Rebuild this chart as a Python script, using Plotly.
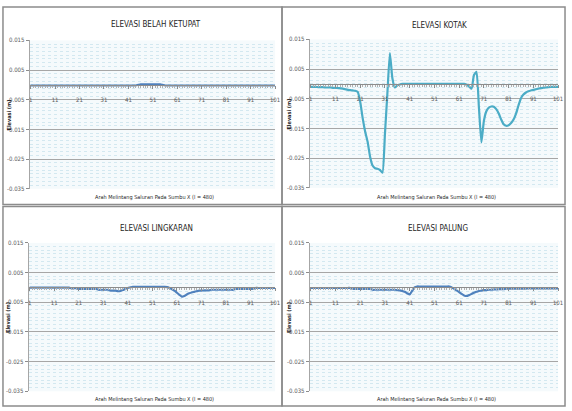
import plotly.graph_objects as go

# ---------------- data ----------------
x_pos = list(range(1, 102))
x_tick_vals = [1, 11, 21, 31, 41, 51, 61, 71, 81, 91, 101]
x_tick_text = ["1", "11", "21", "31", "41", "51", "61", "71", "81", "91", "101"]
y_tick_vals = [0.015, 0.005, -0.005, -0.015, -0.025, -0.035]
y_tick_text = ["0.015", "0.005", "-0.005", "-0.015", "-0.025", "-0.035"]

titles = ["ELEVASI BELAH KETUPAT", "ELEVASI KOTAK", "ELEVASI LINGKARAN", "ELEVASI PALUNG"]
x_title = "Arah Melintang Saluran Pada Sumbu X (l = 480)"
y_title = "Elevasi (m)"

belah_ketupat = [
    -0.0002, -0.0002, -0.0002, -0.0002, -0.0002, -0.0002, -0.0002, -0.0002, -0.0002, -0.0002,
    -0.0002, -0.0002, -0.0002, -0.0002, -0.0002, -0.0002, -0.0002, -0.0002, -0.0002, -0.0002,
    -0.0002, -0.0002, -0.0002, -0.0002, -0.0002, -0.0002, -0.0002, -0.0002, -0.0002, -0.0002,
    -0.0002, -0.0002, -0.0002, -0.0002, -0.0002, -0.0002, -0.0002, -0.0002, -0.0002, -0.0002,
    -0.0002, -0.0002, -0.0002, -0.0002, 0.0000, 0.0002, 0.0002, 0.0002, 0.0002, 0.0002,
    0.0002, 0.0002, 0.0002, 0.0002, 0.0000, -0.0002, -0.0002, -0.0002, -0.0002, -0.0002,
    -0.0002, -0.0002, -0.0002, -0.0002, -0.0002, -0.0002, -0.0002, -0.0002, -0.0002, -0.0002,
    -0.0002, -0.0002, -0.0002, -0.0002, -0.0002, -0.0002, -0.0002, -0.0002, -0.0002, -0.0002,
    -0.0002, -0.0002, -0.0002, -0.0002, -0.0002, -0.0002, -0.0002, -0.0002, -0.0002, -0.0002,
    -0.0002, -0.0002, -0.0002, -0.0002, -0.0002, -0.0002, -0.0002, -0.0002, -0.0002, -0.0002,
    -0.0002,
]

kotak = [
    -0.0010, -0.0010, -0.0010, -0.0011, -0.0011, -0.0011, -0.0012, -0.0012, -0.0012, -0.0013,
    -0.0013, -0.0014, -0.0015, -0.0016, -0.0018, -0.0020, -0.0021, -0.0022, -0.0023, -0.0027,
    -0.0060, -0.0115, -0.0160, -0.0195, -0.0245, -0.0275, -0.0284, -0.0286, -0.0290, -0.0299,
    -0.0170, -0.0030, 0.0104, 0.0020, -0.0012, -0.0005, -0.0002, 0.0000, 0.0000, 0.0000,
    0.0000, 0.0000, 0.0000, 0.0000, 0.0000, 0.0000, 0.0000, 0.0000, 0.0000, 0.0000,
    0.0000, 0.0000, 0.0000, 0.0000, 0.0000, 0.0000, 0.0000, 0.0000, 0.0000, 0.0000,
    0.0000, 0.0000, 0.0000, -0.0003, -0.0008, -0.0016, 0.0030, 0.0041, -0.0080, -0.0197,
    -0.0125, -0.0092, -0.0080, -0.0076, -0.0077, -0.0085, -0.0100, -0.0120, -0.0136, -0.0141,
    -0.0139, -0.0132, -0.0120, -0.0100, -0.0072, -0.0048, -0.0036, -0.0029, -0.0025, -0.0022,
    -0.0020, -0.0018, -0.0016, -0.0014, -0.0013, -0.0012, -0.0011, -0.0010, -0.0010, -0.0010,
    -0.0010,
]

lingkaran = [
    -0.0001, -0.0001, -0.0001, -0.0001, -0.0001, -0.0001, -0.0001, -0.0001, -0.0001, -0.0001,
    -0.0001, -0.0001, -0.0001, -0.0001, -0.0001, -0.0001, -0.0001, -0.0003, -0.0003, -0.0003,
    -0.0005, -0.0005, -0.0005, -0.0005, -0.0005, -0.0005, -0.0005, -0.0005, -0.0008, -0.0008,
    -0.0008, -0.0008, -0.0008, -0.0011, -0.0011, -0.0011, -0.0013, -0.0012, -0.0009, -0.0005,
    -0.0002, 0.0000, 0.0002, 0.0002, 0.0002, 0.0002, 0.0002, 0.0002, 0.0002, 0.0002,
    0.0002, 0.0002, 0.0002, 0.0002, 0.0002, 0.0002, 0.0001, -0.0002, -0.0006, -0.0011,
    -0.0018, -0.0025, -0.0031, -0.0029, -0.0024, -0.0020, -0.0017, -0.0015, -0.0013, -0.0011,
    -0.0011, -0.0010, -0.0010, -0.0010, -0.0008, -0.0008, -0.0008, -0.0008, -0.0008, -0.0008,
    -0.0008, -0.0008, -0.0008, -0.0008, -0.0005, -0.0005, -0.0005, -0.0005, -0.0005, -0.0005,
    -0.0005, -0.0005, -0.0002, -0.0002, -0.0002, -0.0002, -0.0002, -0.0002, -0.0002, -0.0002,
    -0.0002,
]

palung = [
    -0.0002, -0.0002, -0.0002, -0.0002, -0.0002, -0.0002, -0.0002, -0.0002, -0.0002, -0.0002,
    -0.0002, -0.0002, -0.0002, -0.0002, -0.0002, -0.0002, -0.0002, -0.0005, -0.0005, -0.0005,
    -0.0005, -0.0005, -0.0005, -0.0005, -0.0005, -0.0008, -0.0008, -0.0008, -0.0008, -0.0008,
    -0.0008, -0.0008, -0.0008, -0.0008, -0.0008, -0.0009, -0.0010, -0.0012, -0.0015, -0.0020,
    -0.0024, -0.0012, 0.0000, 0.0003, 0.0003, 0.0003, 0.0003, 0.0003, 0.0003, 0.0003,
    0.0003, 0.0003, 0.0003, 0.0003, 0.0003, 0.0003, 0.0003, 0.0000, -0.0005, -0.0010,
    -0.0016, -0.0022, -0.0027, -0.0029, -0.0026, -0.0022, -0.0018, -0.0015, -0.0012, -0.0011,
    -0.0009, -0.0009, -0.0008, -0.0008, -0.0007, -0.0007, -0.0006, -0.0006, -0.0006, -0.0004,
    -0.0004, -0.0004, -0.0004, -0.0004, -0.0004, -0.0004, -0.0004, -0.0004, -0.0003, -0.0003,
    -0.0003, -0.0003, -0.0003, -0.0003, -0.0003, -0.0003, -0.0003, -0.0003, -0.0003, -0.0003,
    -0.0003,
]

series = [belah_ketupat, kotak, lingkaran, palung]
colors = ["#4F81BD", "#4BACC6", "#4F81BD", "#4F81BD"]

# ---------------- layout geometry ----------------
W, H = 572, 411
# plot areas in pixels: (x0, x1, ytop, ybottom)
areas = [(29, 277, 37, 188), (312, 563, 36, 187), (28, 277, 243, 394), (312, 563, 243, 394)]
title_pos = [(157, 21), (443, 22), (157, 228), (442, 228)]
xtitle_pos = [(155, 197), (440, 197), (155, 402), (440, 402)]
panels = [(2, 3, 284, 204), (284, 3, 570, 204), (2, 206, 284, 409), (284, 206, 570, 409)]

y_min, y_max = -0.035, 0.015
x_min, x_max = 0.6, 101

NARROW = "Liberation Sans Narrow, Arial Narrow, DejaVu Sans Condensed, sans-serif"
fig = go.Figure()
layout = dict(
    width=W, height=H, margin=dict(l=0, r=0, t=0, b=0),
    paper_bgcolor="white", plot_bgcolor="#F5FAFC", showlegend=False,
    annotations=[], shapes=[],
)

for i, (vals, col) in enumerate(zip(series, colors)):
    k = "" if i == 0 else str(i + 1)
    x0, x1, yt, yb = areas[i]
    xd = [x0 / W, x1 / W]
    yd = [1 - yb / H, 1 - yt / H]
    zero_pos = yd[0] + (0 - y_min) / (y_max - y_min) * (yd[1] - yd[0])
    fig.add_trace(go.Scatter(
        x=x_pos, y=vals, mode="lines", xaxis="x" + k, yaxis="y" + k,
        line=dict(color=col, width=2.2, shape="spline", smoothing=0.5),
        hoverinfo="skip", cliponaxis=False,
    ))
    layout["xaxis" + k] = dict(
        domain=xd, range=[x_min, x_max], anchor="free", position=zero_pos,
        tickmode="array", tickvals=x_tick_vals, ticktext=x_tick_text,
        ticks="outside", ticklen=3, tickcolor="#8C8C8C", ticklabelstandoff=6,
        tickfont=dict(size=6, color="#595959", family=NARROW),
        showline=True, linecolor="#8C8C8C", linewidth=1,
        showgrid=False, zeroline=False,
        minor=dict(dtick=1, tick0=1, showgrid=False,
                   ticks="outside", ticklen=2, tickcolor="#B0B0B0"),
        fixedrange=True,
    )
    layout["yaxis" + k] = dict(
        domain=yd, range=[y_min, y_max], anchor="x" + k,
        tickmode="array", tickvals=y_tick_vals, ticktext=y_tick_text,
        ticks="outside", ticklen=3, tickcolor="#8C8C8C",
        tickfont=dict(size=6, color="#595959", family=NARROW),
        showgrid=True, gridcolor="#A6A6A6", gridwidth=1,
        showline=True, linecolor="#A6A6A6", linewidth=1,
        zeroline=False,
        minor=dict(dtick=0.00125, tick0=0.015, showgrid=True, gridcolor="#D3E8F0",
                   griddash="dot", gridwidth=1),
        fixedrange=True,
    )
    tx, ty = title_pos[i]
    layout["annotations"].append(dict(
        text=titles[i], x=tx / W, y=1 - ty / H, xref="paper", yref="paper",
        showarrow=False, font=dict(size=8, color="#1F1F1F", family=NARROW),
        xanchor="center", yanchor="middle"))
    ax, ay = xtitle_pos[i]
    layout["annotations"].append(dict(
        text=x_title, x=ax / W, y=1 - ay / H, xref="paper", yref="paper",
        showarrow=False, font=dict(size=5.5, color="#262626", family=NARROW),
        xanchor="center", yanchor="middle"))
    layout["annotations"].append(dict(
        text="<b>" + y_title + "</b>", x=(x0 - 21) / W, y=1 - (yt + yb) / 2 / H,
        xref="paper", yref="paper", textangle=-90,
        showarrow=False, font=dict(size=5.5, color="#262626", family=NARROW),
        xanchor="center", yanchor="middle"))
    px0, py0, px1, py1 = panels[i]
    layout["shapes"].append(dict(
        type="rect", xref="paper", yref="paper",
        x0=px0 / W, x1=px1 / W, y0=1 - py1 / H, y1=1 - py0 / H,
        line=dict(color="#8C8C8C", width=1.5), fillcolor="rgba(0,0,0,0)", layer="below"))

fig.update_layout(**layout)
fig.write_html("out.html", config={"displayModeBar": False},
               post_script="document.body.style.margin='0px';document.body.style.padding='0px';")
